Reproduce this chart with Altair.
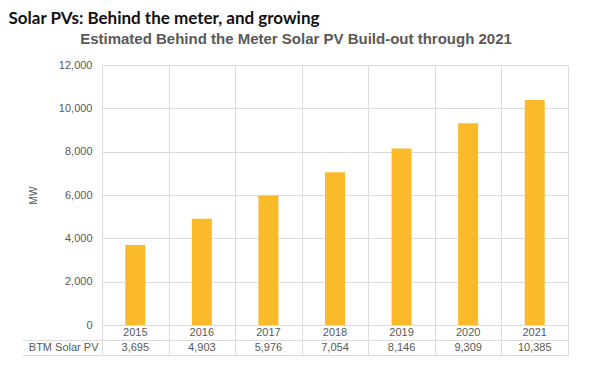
import altair as alt
import pandas as pd

years = ["2015", "2016", "2017", "2018", "2019", "2020", "2021"]
mw = [3695, 4903, 5976, 7054, 8146, 9309, 10385]
row_label = "BTM Solar PV"
y_ticks = [0, 2000, 4000, 6000, 8000, 10000, 12000]

df = pd.DataFrame({"year": years, "mw": mw})

# data table under the plot: a row of years and a row of values
rows = ["year"] * len(years) + [row_label] * len(years)
cells = years + [f"{v:,}" for v in mw]
tdf = pd.DataFrame({"year": years * 2, "row": rows, "cell": cells})

GRID = "#dcdcdc"
TXT = "#595959"
FONT = "Liberation Sans"

xscale = alt.Scale(paddingInner=0, paddingOuter=0)

bars = alt.Chart(df).mark_bar(size=20, color="#FBBA2A").encode(
    x=alt.X("year:N", sort=years, title=None, scale=xscale,
            axis=alt.Axis(labels=False, ticks=False, tickBand="extent",
                          minExtent=0, maxExtent=0,
                          grid=True, gridColor=GRID, domainColor=GRID)),
    y=alt.Y("mw:Q", scale=alt.Scale(domain=[0, 12000]),
            axis=alt.Axis(values=y_ticks, format=",.0f", grid=True, gridColor=GRID,
                          domain=False, ticks=False, labelPadding=10,
                          labelColor=TXT, labelFont=FONT, labelFontSize=11,
                          title="MW", titleFont=FONT, titleFontSize=10,
                          titleFontWeight="normal", titleColor=TXT, titlePadding=20)),
).properties(
    width=466, height=260,
    title=alt.TitleParams("Estimated Behind the Meter Solar PV Build-out through 2021",
                          anchor="middle", dx=-39, font=FONT, fontSize=15,
                          fontWeight="bold", color=TXT, offset=12),
)

table = alt.Chart(tdf).mark_text(font=FONT, fontSize=11, color=TXT).encode(
    x=alt.X("year:N", sort=years, title=None, scale=xscale,
            axis=alt.Axis(grid=True, tickBand="extent", labels=False, ticks=False,
                          domain=False, gridColor=GRID)),
    y=alt.Y("row:N", title=None, sort=["year", row_label],
            scale=alt.Scale(paddingInner=0, paddingOuter=0),
            axis=alt.Axis(grid=True, tickBand="extent", tickSize=80, labelPadding=-76,
                          tickOpacity={"condition": {"test": "isValid(datum.extra)", "value": 0},
                                       "value": 1},
                          labelExpr="datum.value == 'year' ? '' : datum.value",
                          tickColor=GRID, gridColor=GRID, domain=False,
                          labelColor=TXT, labelFont=FONT, labelFontSize=11)),
    text=alt.Text("cell:N"),
).properties(width=466, height=30)

chart = alt.vconcat(bars, table, spacing=0, bounds="flush").properties(
    title=alt.TitleParams("Solar PVs: Behind the meter, and growing", anchor="start",
                          font="Lato", fontSize=17, fontWeight="bold", color="#111111",
                          dx=-13, offset=4),
    padding={"left": 0, "top": 2, "right": 5, "bottom": 5},
).configure_view(stroke=None).configure_concat(spacing=0)

chart.save("out.html", embed_options={"renderer": "svg", "actions": False})
